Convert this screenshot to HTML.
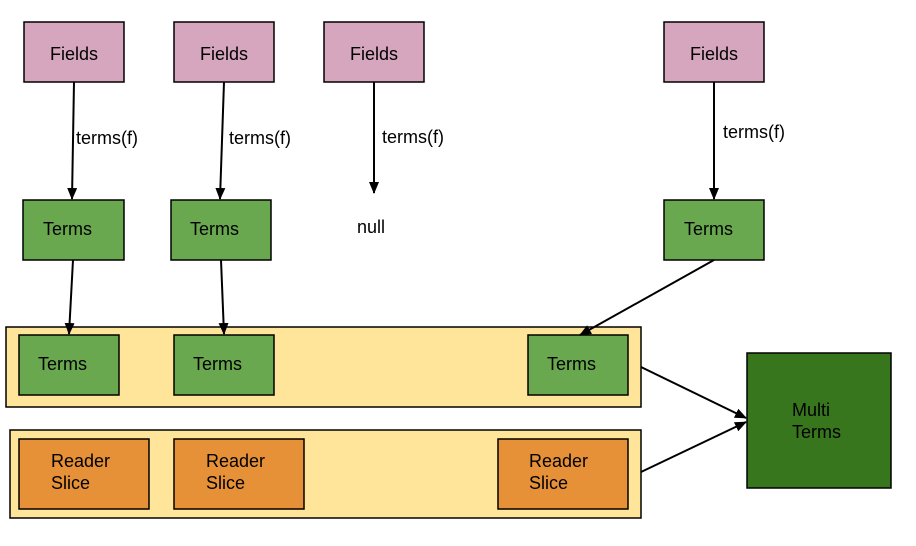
<!DOCTYPE html>
<html><head><style>body{margin:0;background:#fff}svg{display:block}text{font-family:"Liberation Sans",sans-serif;font-size:18px;fill:#000}</style></head><body>
<svg width="916" height="546" viewBox="0 0 916 546" xmlns="http://www.w3.org/2000/svg">
<defs><marker id="a" markerWidth="12" markerHeight="12" refX="11" refY="5" orient="auto" markerUnits="userSpaceOnUse"><path d="M0,0 L12,5 L0,10 z" fill="#000"/></marker></defs>
<g stroke="#000" stroke-width="1.5">
<rect x="24" y="22" width="100" height="60" fill="#d5a6bd"/>
<rect x="174" y="22" width="100" height="60" fill="#d5a6bd"/>
<rect x="324" y="22" width="100" height="60" fill="#d5a6bd"/>
<rect x="664" y="22" width="100" height="60" fill="#d5a6bd"/>
<rect x="23" y="200" width="101" height="60" fill="#6aa84f"/>
<rect x="171" y="200" width="100" height="60" fill="#6aa84f"/>
<rect x="664" y="200" width="100" height="60" fill="#6aa84f"/>
<rect x="6" y="327" width="635" height="80" fill="#ffe599"/>
<rect x="19" y="335" width="100" height="60" fill="#6aa84f"/>
<rect x="174" y="335" width="100" height="60" fill="#6aa84f"/>
<rect x="528" y="335" width="100" height="60" fill="#6aa84f"/>
<rect x="10" y="430" width="631" height="88" fill="#ffe599"/>
<rect x="19" y="439" width="130" height="70" fill="#e69138"/>
<rect x="174" y="439" width="130" height="70" fill="#e69138"/>
<rect x="498" y="439" width="130" height="70" fill="#e69138"/>
<rect x="747" y="353" width="144" height="135" fill="#38761d"/>
</g>
<g stroke="#000" stroke-width="2" marker-end="url(#a)">
<line x1="74" y1="82" x2="72" y2="199"/>
<line x1="224" y1="82" x2="220" y2="199"/>
<line x1="374" y1="82" x2="374" y2="193"/>
<line x1="714" y1="82" x2="714" y2="199"/>
<line x1="73" y1="260" x2="69" y2="334"/>
<line x1="221" y1="260" x2="224" y2="334"/>
<line x1="714" y1="260" x2="580" y2="335"/>
<line x1="641" y1="367" x2="746" y2="418"/>
<line x1="641" y1="472" x2="746" y2="422"/>
</g>
<text x="74" y="60" text-anchor="middle">Fields</text>
<text x="224" y="60" text-anchor="middle">Fields</text>
<text x="374" y="60" text-anchor="middle">Fields</text>
<text x="714" y="60" text-anchor="middle">Fields</text>
<text x="76" y="144">terms(f)</text>
<text x="229" y="144">terms(f)</text>
<text x="382" y="143">terms(f)</text>
<text x="723" y="138">terms(f)</text>
<text x="357" y="233">null</text>
<text x="43" y="235">Terms</text>
<text x="190" y="235">Terms</text>
<text x="684" y="235">Terms</text>
<text x="38" y="370">Terms</text>
<text x="193" y="370">Terms</text>
<text x="547" y="370">Terms</text>
<text x="51" y="467">Reader</text><text x="51" y="489">Slice</text>
<text x="206" y="467">Reader</text><text x="206" y="489">Slice</text>
<text x="529" y="467">Reader</text><text x="529" y="489">Slice</text>
<text x="792" y="416">Multi</text><text x="792" y="438">Terms</text>
</svg>
</body></html>
